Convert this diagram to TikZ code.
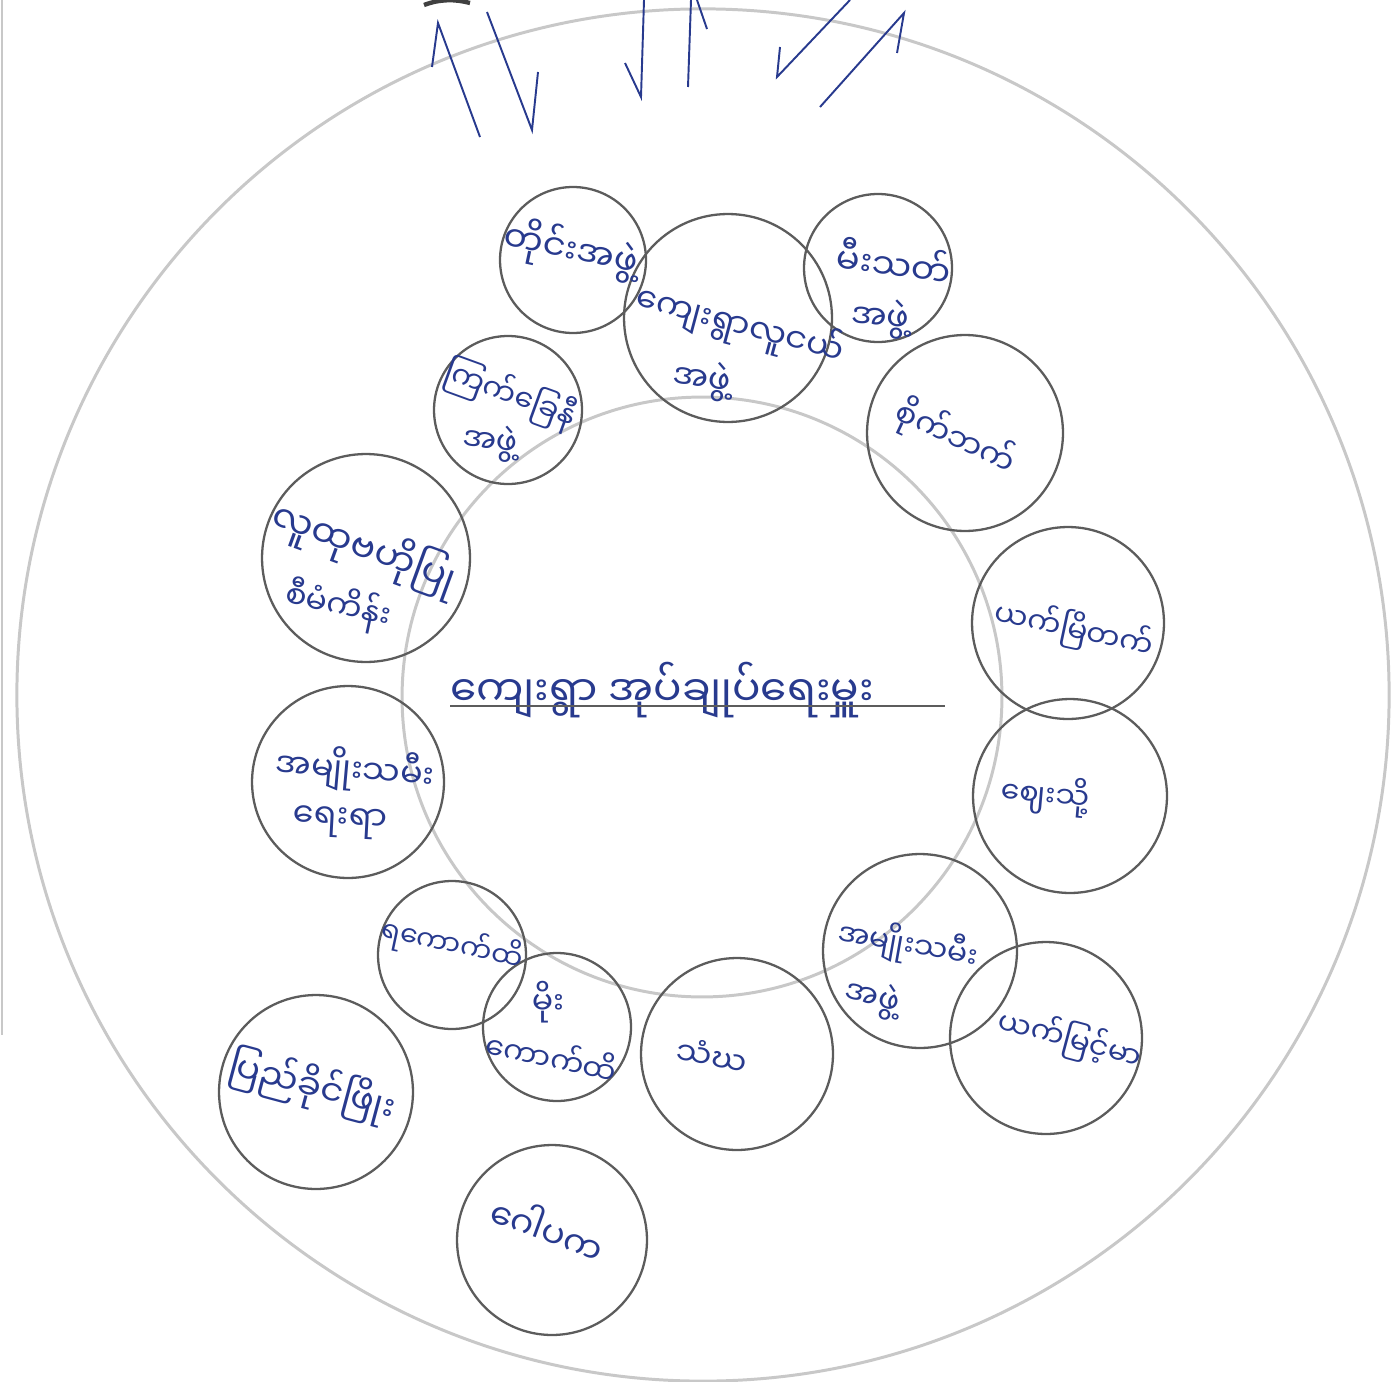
\documentclass[tikz,border=0pt]{standalone}
\usepackage{fontspec}
\newfontfamily\mya[Script=Myanmar]{Noto Sans Myanmar UI}
\usepackage{tikz}
\usetikzlibrary{positioning}
\definecolor{ink}{HTML}{283A8E}
\definecolor{pencil}{HTML}{5C5C5C}
\definecolor{faint}{HTML}{C8C8C8}

\begin{document}
\begin{tikzpicture}[x=0.02cm, y=-0.02cm,
        every node/.style={inner sep=0pt},
        ring/.style={circle, draw=pencil, line width=1.3pt, minimum size=#1},
        halo/.style={circle, draw=faint, line width=1.7pt, minimum size=#1},
        hand/.style={text=ink, font=\mya\fontsize{#1}{#1}\selectfont},
        hand/.default=20,
        tick/.style={ink, line width=1.1pt, line join=miter}
    ]
    \useasboundingbox (0,0) rectangle (1399,1382);

    % ================= lingkaran besar =================
    \node[halo=27.45cm] (tract) at (703,695) {};
    \node[halo=12.0cm]  (core)  at (702,697) {};
    \draw[faint, line width=0.8pt] (2,0) -- (2,1035);

    % ================= lingkaran kecil =================
    \node[ring=2.92cm] (taing)    at ( 573, 260) {};
    \node[ring=4.16cm] (youth)    at ( 728, 318) {};
    \node[ring=2.96cm] (fire)     at ( 878, 268) {};
    \node[ring=2.96cm] (redcross) at ( 508, 410) {};
    \node[ring=3.92cm] (saik)     at ( 965, 433) {};
    \node[ring=4.16cm] (ncdd)     at ( 366, 558) {};
    \node[ring=3.84cm] (yetmyeik) at (1068, 623) {};
    \node[ring=3.84cm] (women)    at ( 348, 782) {};
    \node[ring=3.88cm] (zay)      at (1070, 796) {};
    \node[ring=2.96cm] (yakaut)   at ( 452, 955) {};
    \node[ring=2.96cm] (mokaut)   at ( 557,1027) {};
    \node[ring=3.84cm] (sangha)   at ( 737,1054) {};
    \node[ring=3.88cm] (womgrp)   at ( 920, 951) {};
    \node[ring=3.84cm] (yetmyint) at (1046,1038) {};
    \node[ring=3.88cm] (party)    at ( 316,1092) {};
    \node[ring=3.80cm] (gopaka)   at ( 552,1240) {};

    % ================= tulisan =================
    \node[hand=20, rotate=-12] (taing-t)  at (571,250) {တိုင်းအဖွဲ့};
    \node[hand=19, rotate=-15] (youth-t)  at (740,325) {ကျေးရွာလူငယ်};
    \node[hand=19, rotate=-8]  (youth-b)  at (702,380) {အဖွဲ့};
    \node[hand=20, rotate=-8]  (fire-t)   at (894,262) {မီးသတ်};
    \node[hand=19, rotate=-5]  (fire-b)   at (880,318) {အဖွဲ့};
    \node[hand=17, rotate=-20] (redcross-t) at (510,395) {ကြက်ခြေနီ};
    \node[hand=18, rotate=-8]  (redcross-b) at (490,442) {အဖွဲ့};
    \node[hand=18, rotate=-25] (saik-t)   at (955,438) {စိုက်ဘက်};
    \node[hand=21, rotate=-20] (ncdd-t)   at (364,548) {လူထုဗဟိုပြု};
    \node[hand=18, rotate=-12] (ncdd-b)   at (338,606) {စီမံကိန်း};
    \node[hand=17, rotate=-12] (yetmyeik-t) at (1074,630) {ယက်မြိတက်};
    \node[hand=19, rotate=-5]  (women-t)  at (355,770) {အမျိုးသမီး};
    \node[hand=19, rotate=-3]  (women-b)  at (340,823) {ရေးရာ};
    \node[hand=17, rotate=-5]  (zay-t)    at (1045,795) {ဈေးသို့};
    \node[hand=16, rotate=-12] (yakaut-t) at (452,945) {ရကောက်ထိ};
    \node[hand=18]             (mokaut-t) at (548,1002) {မိုး};
    \node[hand=17, rotate=-12] (mokaut-b) at (552,1056) {ကောက်ထိ};
    \node[hand=18, rotate=-10] (sangha-t) at (712,1056) {သံဃ};
    \node[hand=17, rotate=-10] (womgrp-t) at (908,945) {အမျိုးသမီး};
    \node[hand=18, rotate=-15] (womgrp-b) at (872,998) {အဖွဲ့};
    \node[hand=17, rotate=-15] (yetmyint-t) at (1070,1040) {ယက်မြင့်မာ};
    \node[hand=20, rotate=-15] (party-t)  at (312,1087) {ပြည်ခိုင်ဖြိုး};
    \node[hand=20, rotate=-20] (gopaka-t) at (548,1228) {ဂေါပက};

    % ================= tengah =================
    \node[hand=24] (admin-t) at (662,690) {ကျေးရွာ အုပ်ချုပ်ရေးမှူး};
    \coordinate (ul-l) at (450,706);
    \coordinate (ul-r) at (945,706);
    \draw[pencil, line width=1.1pt] (ul-l) -- (ul-r);

    % ================= coretan atas =================
    \draw[tick] (432,67) -- (438,23) -- (480,137);
    \draw[tick] (487,12) -- (532,130) -- (538,72);
    \draw[tick] (625,63) -- (641,97) -- (644,0);
    \draw[tick] (688,87) -- (691,0);
    \draw[tick] (697,0) -- (707,29);
    \draw[tick] (780,47) -- (777,77) -- (850,0);
    \draw[tick] (820,107) -- (904,13) -- (897,53);
    \draw[black!75, line width=2.5pt] (424,5) .. controls (440,-1) and (455,-1) .. (470,3);

\end{tikzpicture}
\end{document}
